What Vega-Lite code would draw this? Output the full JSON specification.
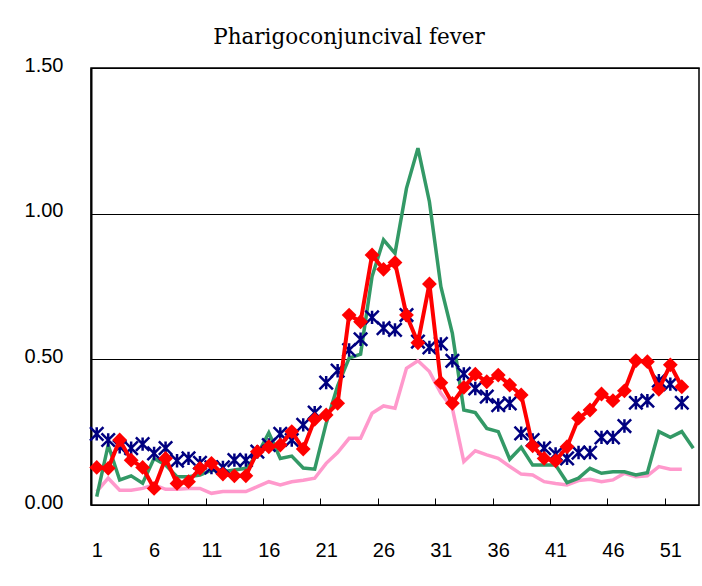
{
  "$schema": "https://vega.github.io/schema/vega-lite/v6.json",
  "autosize": "none",
  "width": 608,
  "height": 437,
  "padding": {"left": 91, "top": 68, "right": 3, "bottom": 81},
  "background": "white",
  "title": {
    "text": "Pharigoconjuncival fever",
    "font": "DejaVu Serif",
    "fontSize": 21.5,
    "fontWeight": "normal",
    "color": "black",
    "anchor": "middle",
    "dx": -46,
    "offset": 7
  },
  "config": {
    "view": {"stroke": "black", "strokeWidth": 1.5}
  },
  "data": {
    "values": [
      {"week": 1, "green": 0.029, "pink": 0.046, "red": 0.129, "navy": 0.244},
      {"week": 2, "green": 0.206, "pink": 0.092, "red": 0.126, "navy": 0.223},
      {"week": 3, "green": 0.086, "pink": 0.051, "red": 0.223, "navy": 0.200},
      {"week": 4, "green": 0.100, "pink": 0.051, "red": 0.154, "navy": 0.195},
      {"week": 5, "green": 0.075, "pink": 0.057, "red": 0.129, "navy": 0.209},
      {"week": 6, "green": 0.160, "pink": 0.069, "red": 0.057, "navy": 0.177},
      {"week": 7, "green": 0.137, "pink": 0.054, "red": 0.160, "navy": 0.195},
      {"week": 8, "green": 0.097, "pink": 0.054, "red": 0.074, "navy": 0.152},
      {"week": 9, "green": 0.097, "pink": 0.057, "red": 0.080, "navy": 0.160},
      {"week": 10, "green": 0.103, "pink": 0.057, "red": 0.126, "navy": 0.145},
      {"week": 11, "green": 0.120, "pink": 0.040, "red": 0.143, "navy": 0.129},
      {"week": 12, "green": 0.114, "pink": 0.046, "red": 0.106, "navy": 0.129},
      {"week": 13, "green": 0.120, "pink": 0.046, "red": 0.100, "navy": 0.154},
      {"week": 14, "green": 0.126, "pink": 0.046, "red": 0.100, "navy": 0.154},
      {"week": 15, "green": 0.172, "pink": 0.063, "red": 0.183, "navy": 0.183},
      {"week": 16, "green": 0.248, "pink": 0.080, "red": 0.200, "navy": 0.206},
      {"week": 17, "green": 0.160, "pink": 0.069, "red": 0.206, "navy": 0.244},
      {"week": 18, "green": 0.168, "pink": 0.080, "red": 0.252, "navy": 0.223},
      {"week": 19, "green": 0.127, "pink": 0.085, "red": 0.192, "navy": 0.275},
      {"week": 20, "green": 0.123, "pink": 0.092, "red": 0.294, "navy": 0.317},
      {"week": 21, "green": 0.280, "pink": 0.143, "red": 0.309, "navy": 0.420},
      {"week": 22, "green": 0.409, "pink": 0.180, "red": 0.349, "navy": 0.461},
      {"week": 23, "green": 0.504, "pink": 0.229, "red": 0.652, "navy": 0.532},
      {"week": 24, "green": 0.518, "pink": 0.229, "red": 0.629, "navy": 0.569},
      {"week": 25, "green": 0.784, "pink": 0.315, "red": 0.858, "navy": 0.644},
      {"week": 26, "green": 0.910, "pink": 0.340, "red": 0.809, "navy": 0.607},
      {"week": 27, "green": 0.864, "pink": 0.332, "red": 0.832, "navy": 0.601},
      {"week": 28, "green": 1.087, "pink": 0.469, "red": 0.652, "navy": 0.652},
      {"week": 29, "green": 1.225, "pink": 0.495, "red": 0.557, "navy": 0.561},
      {"week": 30, "green": 1.041, "pink": 0.458, "red": 0.759, "navy": 0.541},
      {"week": 31, "green": 0.749, "pink": 0.383, "red": 0.420, "navy": 0.553},
      {"week": 32, "green": 0.589, "pink": 0.332, "red": 0.349, "navy": 0.495},
      {"week": 33, "green": 0.326, "pink": 0.149, "red": 0.404, "navy": 0.450},
      {"week": 34, "green": 0.317, "pink": 0.186, "red": 0.449, "navy": 0.400},
      {"week": 35, "green": 0.263, "pink": 0.172, "red": 0.423, "navy": 0.372},
      {"week": 36, "green": 0.252, "pink": 0.160, "red": 0.446, "navy": 0.343},
      {"week": 37, "green": 0.157, "pink": 0.132, "red": 0.412, "navy": 0.349},
      {"week": 38, "green": 0.198, "pink": 0.106, "red": 0.378, "navy": 0.246},
      {"week": 39, "green": 0.137, "pink": 0.103, "red": 0.203, "navy": 0.223},
      {"week": 40, "green": 0.137, "pink": 0.080, "red": 0.160, "navy": 0.195},
      {"week": 41, "green": 0.137, "pink": 0.074, "red": 0.152, "navy": 0.175},
      {"week": 42, "green": 0.077, "pink": 0.069, "red": 0.200, "navy": 0.160},
      {"week": 43, "green": 0.092, "pink": 0.084, "red": 0.298, "navy": 0.180},
      {"week": 44, "green": 0.126, "pink": 0.088, "red": 0.326, "navy": 0.180},
      {"week": 45, "green": 0.109, "pink": 0.080, "red": 0.381, "navy": 0.232},
      {"week": 46, "green": 0.114, "pink": 0.086, "red": 0.358, "navy": 0.232},
      {"week": 47, "green": 0.114, "pink": 0.109, "red": 0.392, "navy": 0.271},
      {"week": 48, "green": 0.103, "pink": 0.097, "red": 0.495, "navy": 0.351},
      {"week": 49, "green": 0.111, "pink": 0.100, "red": 0.492, "navy": 0.358},
      {"week": 50, "green": 0.252, "pink": 0.132, "red": 0.397, "navy": 0.427},
      {"week": 51, "green": 0.232, "pink": 0.123, "red": 0.481, "navy": 0.415},
      {"week": 52, "green": 0.252, "pink": 0.123, "red": 0.406, "navy": 0.351},
      {"week": 53, "green": 0.195, "pink": null, "red": null, "navy": null}
    ]
  },
  "encoding": {
    "x": {
      "field": "week",
      "type": "quantitative",
      "scale": {"domain": [0.5, 53.5], "nice": false, "zero": false},
      "axis": {
        "title": null,
        "values": [0.5, 5.5, 10.5, 15.5, 20.5, 25.5, 30.5, 35.5, 40.5, 45.5, 50.5],
        "labelExpr": "format(datum.value + 0.5, 'd')",
        "labelOffset": 5.7,
        "labelFont": "Liberation Sans",
        "labelFontSize": 20,
        "labelColor": "black",
        "grid": false,
        "domain": false,
        "offset": -7,
        "zindex": 1,
        "ticks": true,
        "tickWidth": 1,
        "tickSize": 7,
        "tickColor": "black",
        "tickOpacity": 1,
        "labelPadding": 35,
        "labelBaseline": "top",
        "labelFlush": false,
        "labelBound": false
      }
    }
  },
  "layer": [
    {
      "mark": {"type": "line", "color": "#FF99CC", "strokeWidth": 3.5},
      "encoding": {
        "y": {
          "field": "pink",
          "type": "quantitative",
          "scale": {"domain": [0, 1.5], "nice": false},
          "axis": {
            "title": null,
            "values": [0, 0.5, 1, 1.5],
            "format": ".2f",
            "labelFont": "Liberation Sans",
            "labelFontSize": 20,
            "labelColor": "black",
            "grid": true,
            "gridColor": "black",
            "gridWidth": 1,
            "gridOpacity": 1,
            "ticks": false,
            "domainColor": "black",
            "domainWidth": 2,
            "labelPadding": 28,
            "labelOffset": -3
          }
        }
      }
    },
    {
      "mark": {"type": "line", "color": "#339966", "strokeWidth": 3.5},
      "encoding": {"y": {"field": "green", "type": "quantitative"}}
    },
    {
      "mark": {"type": "point", "shape": "M-1,-1L1,1M-1,1L1,-1M0,-1L0,1", "filled": false, "stroke": "#000080", "strokeWidth": 2.5, "size": 180, "opacity": 1},
      "encoding": {"y": {"field": "navy", "type": "quantitative"}}
    },
    {
      "mark": {"type": "line", "color": "#FF0000", "strokeWidth": 4, "point": {"shape": "diamond", "filled": true, "fill": "#FF0000", "size": 220, "opacity": 1}},
      "encoding": {"y": {"field": "red", "type": "quantitative"}}
    }
  ]
}
